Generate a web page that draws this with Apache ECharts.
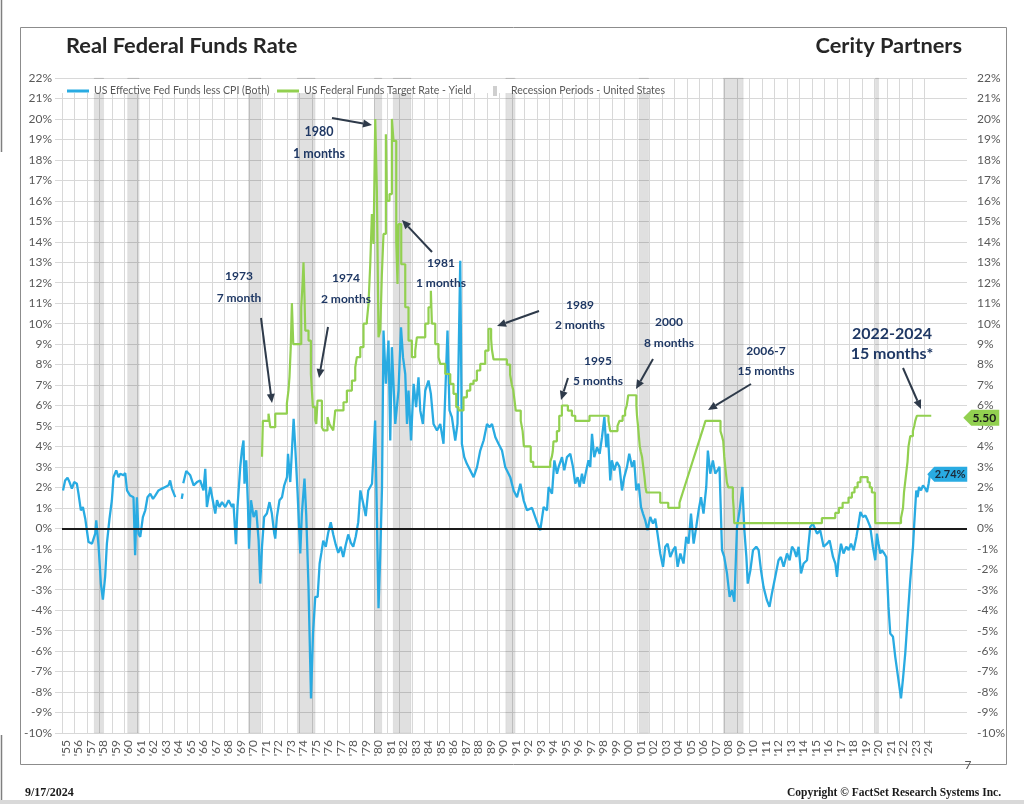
<!DOCTYPE html>
<html><head><meta charset="utf-8">
<script src="https://cdn.jsdelivr.net/npm/echarts@6/dist/echarts.min.js"></script>
<style>html,body{margin:0;padding:0;background:#fff}#c{width:1024px;height:804px}</style>
</head><body><div id="c"></div>
<script>
// ---------------- data ----------------
const yearTicks = [1955,1956,1957,1958,1959,1960,1961,1962,1963,1964,1965,1966,1967,1968,1969,1970,1971,1972,1973,1974,1975,1976,1977,1978,1979,1980,1981,1982,1983,1984,1985,1986,1987,1988,1989,1990,1991,1992,1993,1994,1995,1996,1997,1998,1999,2000,2001,2002,2003,2004,2005,2006,2007,2008,2009,2010,2011,2012,2013,2014,2015,2016,2017,2018,2019,2020,2021,2022,2023,2024];

const blueName = 'US Effective Fed Funds less CPI (Both)';
const greenName = 'US Federal Funds Target Rate - Yield';
const recName = 'Recession Periods - United States';

// [year, real rate %]
const realRate = [
[1955.08,1.85],[1955.25,2.34],[1955.44,2.47],[1955.60,2.26],[1955.79,1.94],[1955.97,2.26],[1956.19,2.18],[1956.32,1.69],[1956.51,0.88],[1956.67,1.04],[1956.86,0.47],[1957.12,-0.67],[1957.40,-0.75],[1957.66,-0.26],[1957.74,0.39],[1957.93,-0.9],[1958.11,-2.7],[1958.27,-3.48],[1958.45,-2.37],[1958.59,-0.75],[1958.80,0.47],[1958.99,1.37],[1959.12,2.5],[1959.34,2.83],[1959.52,2.5],[1959.66,2.67],[1959.92,2.59],[1960.06,2.7],[1960.20,1.85],[1960.45,1.6],[1960.72,1.52],[1960.85,-1.32],[1960.99,1.52],[1961.12,-0.26],[1961.26,-0.42],[1961.47,0.55],[1961.66,0.88],[1961.84,1.52],[1962.06,1.69],[1962.28,1.44],[1962.46,1.6],[1962.72,1.85],[1963.00,1.94],[1963.26,2.02],[1963.52,2.1],[1963.65,2.34],[1963.79,1.94],[1964.06,1.52],null,
[1964.58,1.44],[1964.65,1.7],null,
[1964.70,2.2],[1964.94,2.8],[1965.26,2.59],[1965.53,2.1],[1965.80,2.26],[1966.05,2.34],[1966.32,1.85],[1966.46,2.91],[1966.59,1.04],[1966.86,2.02],[1966.99,1.6],[1967.26,0.72],[1967.40,1.37],[1967.60,1.04],[1967.80,1.28],[1968.06,1.04],[1968.33,1.37],[1968.60,1.04],[1968.72,1.2],[1968.91,-0.78],[1969.04,1.04],[1969.26,3.0],[1969.39,3.8],[1969.52,4.29],[1969.60,2.18],[1969.74,3.32],[1969.88,1.04],[1969.96,-1.0],[1970.12,1.37],[1970.33,0.55],[1970.54,0.88],[1970.73,-0.59],[1970.86,-2.7],[1971.00,-0.9],[1971.17,0.55],[1971.39,0.72],[1971.60,1.28],[1971.79,0.72],[1971.98,-0.26],[1972.06,-0.5],[1972.19,0.55],[1972.40,1.37],[1972.60,1.52],[1972.78,2.1],[1973.00,2.5],[1973.08,3.64],[1973.26,2.26],[1973.53,5.35],[1973.66,3.96],[1973.85,1.69],[1974.06,-1.23],[1974.19,0.72],[1974.40,2.43],[1974.54,0.63],[1974.72,-2.86],[1974.92,-8.31],[1975.08,-5.14],[1975.26,-3.35],[1975.45,-3.35],[1975.61,-1.72],
[1975.75,-1.2],[1975.9,-0.6],[1976.1,-0.9],[1976.3,-0.2],[1976.5,0.3],[1976.7,-0.3],[1976.9,-0.8],[1977.1,-1.2],[1977.3,-0.9],[1977.5,-1.4],[1977.7,-0.8],[1977.9,-0.3],[1978.1,-0.7],[1978.3,-0.9],[1978.5,-0.4],[1978.7,0.3],[1978.87,1.85],[1979.1,1.2],[1979.3,0.6],[1979.5,1.85],[1979.8,2.18],[1980.05,5.27],[1980.15,2.0],[1980.32,-3.9],[1980.45,-1.5],[1980.6,2.0],
[1980.72,9.66],[1980.91,7.06],[1981.12,9.17],[1981.26,4.29],[1981.39,8.85],[1981.66,5.1],[1981.92,6.73],[1982.12,9.82],[1982.28,8.36],[1982.46,7.54],[1982.60,5.1],[1982.72,6.73],[1982.92,4.29],[1983.13,7.06],[1983.33,5.92],[1983.52,7.38],[1983.66,5.76],[1983.87,5.1],[1984.06,6.73],[1984.32,7.22],[1984.51,6.57],[1984.72,5.1],[1985.00,4.78],[1985.26,5.1],[1985.52,4.13],[1985.84,9.66],[1986.00,5.76],[1986.19,5.43],[1986.46,4.29],[1986.64,5.1],[1986.86,13.07],[1986.99,4.13],[1987.18,3.48],[1987.39,3.15],[1987.66,2.83],[1987.93,2.5],[1988.20,2.99],[1988.46,3.8],[1988.73,4.29],[1989.00,5.1],[1989.21,4.94],[1989.40,5.1],[1989.67,4.45],[1989.92,4.13],[1990.20,3.8],[1990.46,2.99],[1990.86,2.5],[1991.13,1.85],[1991.40,1.52],[1991.67,2.18],[1991.93,1.37],[1992.20,0.88],[1992.60,1.0],[1993.00,0.3],
[1993.26,-0.1],[1993.53,1.04],[1993.80,0.88],[1993.93,2.02],[1994.20,1.69],[1994.39,3.32],[1994.60,2.67],[1994.73,3.0],[1995.00,3.48],[1995.18,2.83],[1995.40,3.48],[1995.66,3.64],[1995.88,3.0],[1996.06,2.18],[1996.25,2.5],[1996.41,2.02],[1996.60,2.67],[1996.73,2.18],[1996.94,2.83],[1997.12,3.32],[1997.26,3.0],[1997.40,4.62],[1997.58,3.48],[1997.80,3.96],[1998.01,3.64],[1998.20,4.45],[1998.39,5.43],[1998.54,3.96],[1998.68,4.62],[1998.86,2.34],[1998.99,3.32],[1999.18,2.83],[1999.39,3.24],[1999.60,3.0],[1999.80,1.85],[1999.98,2.5],[2000.20,3.0],[2000.38,3.64],[2000.60,3.0],[2000.78,3.32],[2000.94,1.85],[2001.13,2.18],[2001.32,1.04],[2001.48,0.72],[2001.66,0.39],[2001.84,-0.1],[2002.06,0.55],[2002.28,0.23],[2002.46,0.47],[2002.64,-0.26],[2002.86,-1.23],[2003.08,-1.88],[2003.26,-0.9],[2003.45,-0.75],[2003.66,-1.4],[2003.88,-1.07],[2004.07,-0.9],[2004.25,-1.88],[2004.47,-1.23],[2004.72,-1.72],[2004.94,-0.42],[2005.12,-0.75],[2005.32,0.72],[2005.53,-0.75],[2005.74,0.07],[2005.93,0.88],[2006.12,1.52],[2006.32,0.72],[2006.54,2.02],[2006.67,3.8],[2006.86,2.67],[2007.07,3.32],[2007.26,2.67],[2007.44,2.83],[2007.60,3.0],[2007.80,-1.07],[2007.98,-1.4],[2008.20,-2.2],[2008.41,-3.35],[2008.60,-3.02],[2008.79,-3.59],[2009.00,0.07],[2009.21,0.88],[2009.43,2.02],[2009.59,-0.1],[2009.75,-1.4],[2009.86,-2.7],[2010.07,-2.05],[2010.28,-1.07],[2010.54,-0.9],[2010.73,-1.07],[2010.92,-2.05],[2011.12,-2.86],[2011.39,-3.51],[2011.60,-3.84],[2011.79,-3.19],[2012.06,-2.37],[2012.32,-1.56],[2012.51,-1.4],[2012.73,-1.88],[2013.00,-1.23],[2013.21,-1.56],[2013.40,-0.9],[2013.58,-1.07],[2013.75,-1.4],[2013.93,-0.9],[2014.12,-2.2],[2014.33,-1.72],[2014.60,-1.56],[2014.86,0.07],[2015.07,0.23],[2015.40,-0.26],[2015.66,-0.1],[2015.93,-0.9],[2016.20,-0.75],[2016.41,-0.59],[2016.68,-1.4],[2016.87,-1.72],[2017.00,-2.37],[2017.12,-1.56],[2017.32,-0.75],[2017.52,-1.23],[2017.74,-0.9],[2017.93,-1.07],[2018.12,-0.75],[2018.33,-1.07],[2018.55,-0.42],[2018.73,0.23],[2018.87,0.8],[2019.08,0.55],[2019.27,0.63],[2019.45,0.39],[2019.66,0.07],[2019.87,-0.9],[2020.06,-1.56],[2020.19,-0.26],[2020.32,-0.75],[2020.46,-1.23],[2020.59,-1.07],[2020.78,-1.23],[2020.94,-1.4],[2021.12,-3.84],[2021.26,-5.14],[2021.48,-5.3],[2021.66,-6.28],[2021.88,-7.25],[2022.12,-8.31],[2022.27,-7.41],[2022.46,-6.11],[2022.64,-4.49],[2022.86,-2.54],[2023.08,-0.9],[2023.18,0.23],[2023.34,1.85],[2023.45,1.52],[2023.56,2.02],[2023.72,1.85],[2023.88,2.1],[2024.07,1.94],[2024.20,1.77],[2024.33,2.18],[2024.46,2.74]
];

// [year, target rate %] (value holds until next point)
const targetRate = [
[1971.0,3.5],[1971.07,5.25],[1971.52,5.6],[1971.66,4.94],[1972.06,5.6],[1972.99,6.1],[1973.12,6.75],[1973.2,7.4],[1973.3,8.85],[1973.39,11.0],[1973.5,9.0],[1974.14,10.8],[1974.25,12.0],[1974.32,13.0],[1974.4,11.3],[1974.46,9.66],[1974.72,9.17],[1974.91,7.54],[1975.07,5.92],[1975.26,5.27],[1975.34,5.1],[1975.44,6.24],[1975.79,4.94],[1975.92,4.78],[1976.24,5.43],[1976.4,5.1],[1976.54,4.94],[1976.7,4.78],[1976.86,5.76],[1977.52,6.16],[1977.79,6.73],[1978.19,7.22],[1978.46,7.87],[1978.59,8.36],[1978.86,8.85],[1979.12,10.0],[1979.39,10.15],[1979.52,10.96],[1979.66,12.9],[1979.79,15.35],[1979.92,13.89],[1980.06,20.0],[1980.19,16.49],[1980.32,9.33],[1980.46,9.66],[1980.59,12.42],[1980.72,14.38],[1980.91,19.25],[1980.99,16.0],[1981.2,16.33],[1981.39,20.0],[1981.52,18.93],[1981.74,14.05],[1981.84,11.94],[1981.92,14.86],[1982.14,12.9],[1982.46,10.8],[1982.72,9.17],[1982.99,8.36],[1983.26,8.68],[1983.39,9.33],[1984.06,10.0],[1984.32,10.8],[1984.51,11.61],[1984.59,10.0],[1984.86,9.0],[1985.12,8.36],[1985.26,8.03],[1985.66,7.54],[1986.06,7.06],[1986.32,6.57],[1986.54,5.92],[1986.72,5.76],[1987.12,6.4],[1987.39,6.73],[1987.66,7.06],[1987.92,7.22],[1988.19,7.71],[1988.46,8.03],[1988.86,8.68],[1989.12,9.75],[1989.33,9.25],[1989.39,8.75],[1989.52,8.25],[1990.59,8.0],[1990.85,7.5],[1990.99,7.0],[1991.1,6.75],[1991.2,6.25],[1991.3,5.75],[1991.7,5.25],[1991.85,4.75],[1991.95,4.0],[1992.5,3.25],[1992.7,3.0],
[1994.06,3.25],[1994.19,3.5],[1994.26,3.75],[1994.32,4.25],[1994.59,4.75],[1994.78,5.5],[1994.99,6.0],[1995.47,5.75],[1995.79,5.5],[1996.06,5.25],[1997.2,5.5],[1998.72,5.25],[1998.79,5.0],[1998.86,4.75],[1999.44,5.0],[1999.6,5.25],[1999.85,5.5],[2000.05,5.75],[2000.18,6.0],[2000.3,6.5],[2000.95,6.0],[2001.0,5.5],[2001.08,5.0],[2001.15,4.5],[2001.22,4.0],[2001.3,3.75],[2001.4,3.5],[2001.5,3.0],[2001.6,2.5],[2001.68,2.0],[2001.76,1.75],[2002.86,1.25],[2003.5,1.0],[2004.4,1.25],[2004.53,1.5],[2004.66,1.75],[2004.79,2.0],[2004.92,2.25],[2005.05,2.5],[2005.18,2.75],[2005.31,3.0],[2005.44,3.25],[2005.57,3.5],[2005.70,3.75],[2005.83,4.0],[2005.96,4.25],[2006.09,4.5],[2006.22,4.75],[2006.35,5.0],[2006.48,5.25],[2007.68,4.75],[2007.8,4.5],[2007.9,4.25],[2007.98,3.5],[2008.06,3.0],[2008.19,2.25],[2008.3,2.0],[2008.67,1.5],[2008.73,1.0],[2008.78,0.25],[2015.79,0.5],[2016.86,0.75],[2017.15,1.0],[2017.45,1.25],[2017.92,1.5],[2018.19,1.75],[2018.4,2.0],[2018.65,2.25],[2018.88,2.5],[2019.45,2.25],[2019.62,2.0],[2019.79,1.75],[2020.03,1.25],[2020.06,0.25],[2022.12,0.5],[2022.28,1.0],[2022.36,1.75],[2022.5,2.5],[2022.64,3.25],[2022.72,4.0],[2022.86,4.5],[2023.07,4.75],[2023.18,5.0],[2023.26,5.25],[2023.39,5.5],[2024.54,5.5]
];

// NBER recessions [start, end]
const recessions = [[1957.58,1958.33],[1960.25,1961.17],[1969.92,1970.92],[1973.83,1975.25],[1980.0,1980.58],[1981.5,1982.92],[1990.5,1991.25],[2001.17,2001.92],[2007.92,2009.5],[2020.08,2020.33]];

const noteText = [['1973','7 month'],['1974','2 months'],['1980','1 months'],['1981','1 months'],['1989','2 months'],['1995','5 months'],['2000','8 months'],['2006-7','15 months'],['2022-2024','15 months*']];

// ---------------- layout (pixels) ----------------
const notePos = [[239,276,298,12],[346,278,299,12],[319,132,154,12.5],[441,263,283,12],[580,305,325,12],[598,361,381,12],[669,322,343,12],[766,351,371,12],[892,334,354,16]];
const arrowPos = [[261,318,272,403],[328,327,319,378],[332,118,372,125],[432,252,402,220],[539,311,497,326],[568,378,561,400],[653,359,636,389],[751,384,708,410],[903,368,921,409]];

const FONT = 'Lato, "Open Sans", sans-serif';
const GRAY = '#595959';
const NAVY = '#1F3864';
const ARROW = '#2E3A4A';

const chart = echarts.init(document.getElementById('c'));

function arrow(x1,y1,x2,y2){
  const L=9, W=8;
  const a=Math.atan2(y2-y1,x2-x1), c=Math.cos(a), s=Math.sin(a);
  const bx=x2-L*c, by=y2-L*s;
  return [
    {type:'line', z:20, shape:{x1:x1,y1:y1,x2:bx,y2:by}, style:{stroke:ARROW,lineWidth:2}},
    {type:'polygon', z:20, shape:{points:[[x2,y2],[bx-W/2*s,by+W/2*c],[bx+W/2*s,by-W/2*c]]}, style:{fill:ARROW}}
  ];
}

const graphics = [];
graphics.push({type:'rect', z:0, shape:{x:20.5,y:27.5,width:986,height:737}, style:{fill:'none',stroke:'#8c8c8c',lineWidth:1}});
graphics.push({type:'line', z:0, shape:{x1:1.5,y1:0,x2:1.5,y2:152}, style:{stroke:'#7f7f7f',lineWidth:1.5}});
graphics.push({type:'line', z:0, shape:{x1:1.5,y1:735,x2:1.5,y2:800}, style:{stroke:'#7f7f7f',lineWidth:1.5}});
graphics.push({type:'rect', z:0, shape:{x:0,y:800,width:1024,height:4}, style:{fill:'#d9d9d9'}});
graphics.push({type:'rect', z:3, shape:{x:62,y:79,width:608,height:14}, style:{fill:'#ffffff'}});
graphics.push({type:'text', z:20, x:66, y:46, style:{text:'Real Federal Funds Rate', fill:'#262626', font:'bold 21.8px '+FONT, align:'left', verticalAlign:'middle'}});
graphics.push({type:'text', z:20, x:962, y:46, style:{text:'Cerity Partners', fill:'#262626', font:'bold 21.8px '+FONT, align:'right', verticalAlign:'middle'}});
graphics.push({type:'text', z:20, x:25, y:793, style:{text:'9/17/2024', fill:'#1a1a1a', font:'bold 12px "Liberation Serif", serif', align:'left', verticalAlign:'middle'}});
graphics.push({type:'text', z:20, x:1001, y:793, style:{text:'Copyright \u00A9 FactSet Research Systems Inc.', fill:'#1a1a1a', font:'bold 11.5px "Liberation Serif", serif', align:'right', verticalAlign:'middle'}});
graphics.push({type:'text', z:20, x:968, y:765, style:{text:'7', fill:GRAY, font:'12px '+FONT, align:'center', verticalAlign:'middle'}});
noteText.forEach((t,i)=>{
  const p=notePos[i];
  graphics.push({type:'text', z:20, x:p[0], y:p[1], style:{text:t[0], fill:NAVY, font:'bold '+p[3]+'px '+FONT, align:'center', verticalAlign:'middle'}});
  graphics.push({type:'text', z:20, x:p[0], y:p[2], style:{text:t[1], fill:NAVY, font:'bold '+p[3]+'px '+FONT, align:'center', verticalAlign:'middle'}});
});
arrowPos.forEach(a=>arrow(a[0],a[1],a[2],a[3]).forEach(g=>graphics.push(g)));

const lastBlue = realRate[realRate.length-1];
const lastGreen = targetRate[targetRate.length-1];
const xMax = 2027.4;

const legendBase = {top:80, itemWidth:22, itemHeight:12, itemGap:5, textStyle:{color:GRAY, fontSize:10.5, fontFamily:FONT}, z:5};
const invisCorners = 'M0,0h0.01v0.01h-0.01z M21.99,11.99h0.01v0.01h-0.01z ';

chart.setOption({
  animation:false,
  backgroundColor:'#fff',
  textStyle:{fontFamily:FONT},
  grid:{left:62, right:57, top:78, bottom:71, containLabel:false},
  legend:[
    Object.assign({}, legendBase, {left:62, data:[{name:blueName, icon:'path://'+invisCorners+'M0,4.5h22v3h-22z'}]}),
    Object.assign({}, legendBase, {left:272, data:[{name:greenName, icon:'path://'+invisCorners+'M0,4.5h22v3h-22z'}]}),
    Object.assign({}, legendBase, {left:479, data:[{name:recName, icon:'path://'+invisCorners+'M9,1h4v10h-4z'}]})
  ],
  xAxis:{
    type:'value', min:1955, max:xMax,
    axisLine:{show:false},
    axisTick:{show:false, customValues:yearTicks},
    splitLine:{show:true, lineStyle:{color:'#d8d8d8', width:1}},
    axisLabel:{customValues:yearTicks.map(y=>y+0.3), rotate:90, margin:7, color:GRAY, fontSize:12, fontFamily:FONT,
      formatter:v=>"'"+String(Math.floor(v+0.001)).slice(2)}
  },
  yAxis:[
    {type:'value', min:-10, max:22, interval:1, position:'left',
     axisLine:{show:false}, axisTick:{show:true, length:7, lineStyle:{color:'#d8d8d8'}},
     splitLine:{show:true, lineStyle:{color:'#d8d8d8', width:1}},
     axisLabel:{color:GRAY, fontSize:12, margin:10, fontFamily:FONT, formatter:'{value}%'}},
    {type:'value', min:-10, max:22, interval:1, position:'right',
     axisLine:{show:false}, axisTick:{show:false}, splitLine:{show:false},
     axisLabel:{color:GRAY, fontSize:12, margin:10, fontFamily:FONT, formatter:'{value}%'}}
  ],
  graphic:graphics,
  series:[
    {name:recName, type:'line', data:[], z:1, itemStyle:{color:'#cfcfcf'}, symbol:'none',
     markArea:{silent:true, itemStyle:{color:'rgba(0,0,0,0.12)', borderColor:'rgba(0,0,0,0.05)', borderWidth:1},
       data:recessions.map(r=>[{xAxis:r[0]},{xAxis:r[1]}])}},
    {name:blueName, type:'line', data:realRate, z:3, symbol:'none', connectNulls:false,
     lineStyle:{color:'#29ABE2', width:2.3}, itemStyle:{color:'#29ABE2'},
     markLine:{silent:true, symbol:'none', label:{show:false}, lineStyle:{color:'#1a1a1a', width:2, type:'solid'}, data:[{yAxis:0}]},
     markPoint:{silent:true, symbol:'path://M0,7L7,0L40,0L40,14L7,14Z', symbolKeepAspect:false, symbolSize:[40,15], symbolOffset:[17,2],
       itemStyle:{color:'#29ABE2'},
       label:{show:true, position:'inside', offset:[3,0], color:'#1c2a3a', fontWeight:'bold', fontSize:11, fontFamily:FONT, formatter:()=>lastBlue[1].toFixed(2)+'%'},
       data:[{coord:[lastBlue[0], lastBlue[1]]}]}},
    {name:greenName, type:'line', step:'end', data:targetRate, z:4, symbol:'none',
     lineStyle:{color:'#92D050', width:2.2}, itemStyle:{color:'#92D050'},
     markPoint:{silent:true, symbol:'path://M0,8L8,0L36,0L36,16L8,16Z', symbolKeepAspect:false, symbolSize:[36,16], symbolOffset:[18,2],
       itemStyle:{color:'#92D050'},
       label:{show:true, position:'inside', offset:[3,0], color:'#1a1a1a', fontWeight:'bold', fontSize:12, fontFamily:FONT, formatter:()=>lastGreen[1].toFixed(2)},
       data:[{coord:[2027.1, lastGreen[1]]}]}}
  ]
});
</script>
</body></html>
